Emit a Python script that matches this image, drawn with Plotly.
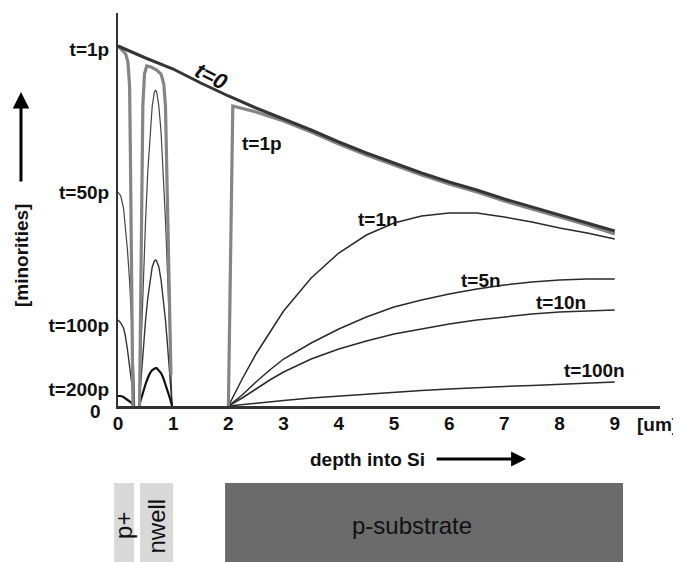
import plotly.graph_objects as go

# ---------------- data ----------------
depth_t0 = [0, 0.5, 1, 1.5, 2, 2.5, 3, 3.5, 4, 4.5, 5, 5.5, 6, 6.5, 7, 7.5, 8, 8.5, 9]
minor_t0 = [360, 348, 337, 323, 310, 298, 287, 276, 264, 253, 243, 233, 224, 216, 207, 199, 191, 183, 175]

# t=1p (three regions)
t1p_pplus_x = [0, 0.08, 0.14, 0.18, 0.21, 0.225, 0.24, 0.255, 0.27]
t1p_pplus_y = [360, 356, 352, 344, 320, 250, 150, 60, 0]
t1p_nwell_x = [0.39, 0.41, 0.43, 0.45, 0.48, 0.52, 0.6, 0.7, 0.78, 0.83, 0.86, 0.88, 0.9, 0.93, 0.96]
t1p_nwell_y = [0, 100, 220, 300, 332, 340, 339, 336, 332, 322, 300, 250, 180, 90, 31]
t1p_sub_x = [2.0, 2.04, 2.08, 2.5, 3.0, 3.5, 4.0, 4.5, 5.0, 5.5, 6.0, 6.5, 7.0, 7.5, 8.0, 8.5, 9.0]
t1p_sub_y = [0, 150, 300, 294, 285, 274, 262, 251, 241, 231, 222, 214, 205, 197, 189, 181, 172]

# p+ region profiles
pplus_x50 = [0, 0.05, 0.1, 0.135, 0.17, 0.21, 0.245, 0.27, 0.29, 0.3]
pplus_t50p = [214, 210, 198, 180, 157, 125, 90, 58, 26, 0]
pplus_x100 = [0, 0.05, 0.1, 0.13, 0.17, 0.22, 0.25, 0.28, 0.29]
pplus_t100p = [86, 83, 78, 71, 57, 38, 22, 5, 0]
pplus_x200 = [0, 0.05, 0.1, 0.18, 0.25, 0.29]
pplus_t200p = [10, 10, 9, 6, 3, 0]

# nwell region profiles
nwell_x = [0.38, 0.42, 0.46, 0.50, 0.54, 0.58, 0.62, 0.66, 0.68, 0.70, 0.74, 0.78, 0.82, 0.86, 0.90, 0.94, 0.98]
nwell_t50p = [0, 66, 129, 186, 235, 274, 300, 314, 316, 314, 300, 274, 235, 186, 129, 66, 0]
nwell_t100p = [0, 30, 59, 86, 108, 126, 139, 145, 146, 145, 139, 126, 108, 86, 59, 30, 0]
nwell_t200p = [0, 8, 15, 22, 28, 33, 36, 38, 38, 38, 36, 33, 28, 22, 15, 8, 0]

# substrate profiles
sub_x = [2.0, 2.25, 2.5, 2.75, 3.0, 3.5, 4.0, 4.5, 5.0, 5.5, 6.0, 6.5, 7.0, 7.5, 8.0, 8.5, 9.0]
sub_t1n = [0, 27, 52, 74, 95, 128, 153, 171, 183, 190, 193, 193, 189, 184, 178, 173, 167]
sub_t5n = [0, 11, 24, 36, 47, 63, 77, 89, 99, 106, 112, 117, 121, 124, 126, 127, 127]
sub_t10n = [0, 8, 17, 26, 34, 47, 57, 65, 72, 77, 82, 86, 89, 92, 94, 95, 96]
sub_t100n = [0, 1.5, 3, 4.5, 5.5, 8, 10, 12, 14, 15.5, 17, 18.5, 19.5, 20.5, 21.5, 23, 24]

x_tick_vals = [0, 1, 2, 3, 4, 5, 6, 7, 8, 9]
x_tick_text = ["0", "1", "2", "3", "4", "5", "6", "7", "8", "9"]
y_tick_vals = [357, 214, 81, 17]
y_tick_text = ["t=1p", "t=50p", "t=100p", "t=200p"]

layer_names = ["p+", "nwell", "p-substrate"]
layer_start = [-0.07, 0.4, 1.94]
layer_end = [0.29, 1.0, 9.15]
layer_fill = ["#d9d9d9", "#d9d9d9", "#6b6b6b"]

X_RANGE = [0, 9.82]
Y_RANGE = [0, 393]
FONT = "Liberation Sans, Arial, sans-serif"

def join(*segs):
    xs, ys = [], []
    for sx, sy in segs:
        if xs:
            xs.append(None); ys.append(None)
        xs += list(sx); ys += list(sy)
    return xs, ys

fig = go.Figure()

def add(x, y, color, width):
    fig.add_trace(go.Scatter(x=x, y=y, mode="lines", line=dict(color=color, width=width),
                             showlegend=False, hoverinfo="skip"))

# thin profiles
x50, y50 = join((pplus_x50, pplus_t50p), (nwell_x, nwell_t50p))
add(x50, y50, "#444444", 1.2)
x100, y100 = join((pplus_x100, pplus_t100p), (nwell_x, nwell_t100p))
add(x100, y100, "#333333", 1.4)
x200, y200 = join((pplus_x200, pplus_t200p), (nwell_x, nwell_t200p))
add(x200, y200, "#111111", 2.2)
for ys in (sub_t1n, sub_t5n, sub_t10n, sub_t100n):
    add(sub_x, ys, "#2a2a2a", 1.5)

# t=1p grey
x1p, y1p = join((t1p_pplus_x, t1p_pplus_y), (t1p_nwell_x, t1p_nwell_y), (t1p_sub_x, t1p_sub_y))
add(x1p, y1p, "#858585", 3.2)
# t=0
add(depth_t0, minor_t0, "#353535", 3)

def px_to_paper_x(d):
    return (d - X_RANGE[0]) / (X_RANGE[1] - X_RANGE[0])

shapes = []
annotations = []
for name, s, e, c in zip(layer_names, layer_start, layer_end, layer_fill):
    shapes.append(dict(type="rect", xref="paper", yref="paper",
                       x0=px_to_paper_x(s), x1=px_to_paper_x(e), y0=-0.40, y1=-0.196,
                       fillcolor=c, line=dict(width=0), layer="below"))

def note(text, x, y, size=19, angle=0, xref="paper", yref="paper"):
    annotations.append(dict(text=text, x=x, y=y, xref=xref, yref=yref, showarrow=False,
                            textangle=angle, xanchor="center", yanchor="middle",
                            font=dict(family=FONT, size=size, color="#111111")))

layer_label_x = [0.11, 0.7, 5.33]
for name, lx in zip(layer_names, layer_label_x):
    note(name, px_to_paper_x(lx), -0.305, size=24, angle=-90 if name != "p-substrate" else 0)

# curve labels
curve_labels = [("t=1p", 2.61, 263), ("t=1n", 4.71, 187), ("t=5n", 6.58, 126),
                ("t=10n", 8.03, 104), ("t=100n", 8.64, 36)]
for txt, lx, ly in curve_labels:
    note("<b>%s</b>" % txt, lx, ly, xref="x", yref="y")
note("<b><i>t=0</i></b>", 1.70, 330, size=22, angle=27, xref="x", yref="y")

# axis extras
note("<b>0</b>", -0.042, -0.013)
note("<b>[um]</b>", 0.996, -0.046)
note("<b>depth into Si</b>", 0.460, -0.135)
note("<b>[minorities]</b>", -0.179, 0.384, angle=-90)
annotations.append(dict(text="", xref="paper", yref="paper", x=0.753, y=-0.135, ax=-91, ay=0,
                        showarrow=True, arrowhead=2, arrowsize=1.0, arrowwidth=3, arrowcolor="#000000"))
annotations.append(dict(text="", xref="paper", yref="paper", x=-0.179, y=0.799, ax=0, ay=91,
                        showarrow=True, arrowhead=2, arrowsize=1.1, arrowwidth=3, arrowcolor="#000000"))

# the page places the figure 8px from the top-left corner, so the figure is
# 8px smaller than the window and its margins are reduced accordingly
fig.update_layout(
    template="none",
    width=673, height=554,
    margin=dict(l=110, r=21, t=5, b=156, autoexpand=False),
    paper_bgcolor="white", plot_bgcolor="white",
    shapes=shapes, annotations=annotations,
    xaxis=dict(range=X_RANGE, showgrid=False, zeroline=False, showline=True, automargin=False,
               linecolor="#333333", linewidth=2.5, ticks="",
               tickvals=x_tick_vals, ticktext=["<b>%s</b>" % t for t in x_tick_text],
               tickfont=dict(family=FONT, size=19, color="#111111"), ticklabelstandoff=-2),
    yaxis=dict(range=Y_RANGE, showgrid=False, zeroline=False, showline=True, automargin=False,
               linecolor="#333333", linewidth=2, ticks="",
               tickvals=y_tick_vals, ticktext=["<b>%s</b>" % t for t in y_tick_text],
               tickfont=dict(family=FONT, size=19, color="#111111"), ticklabelstandoff=3),
)

fig.write_html("out.html")
